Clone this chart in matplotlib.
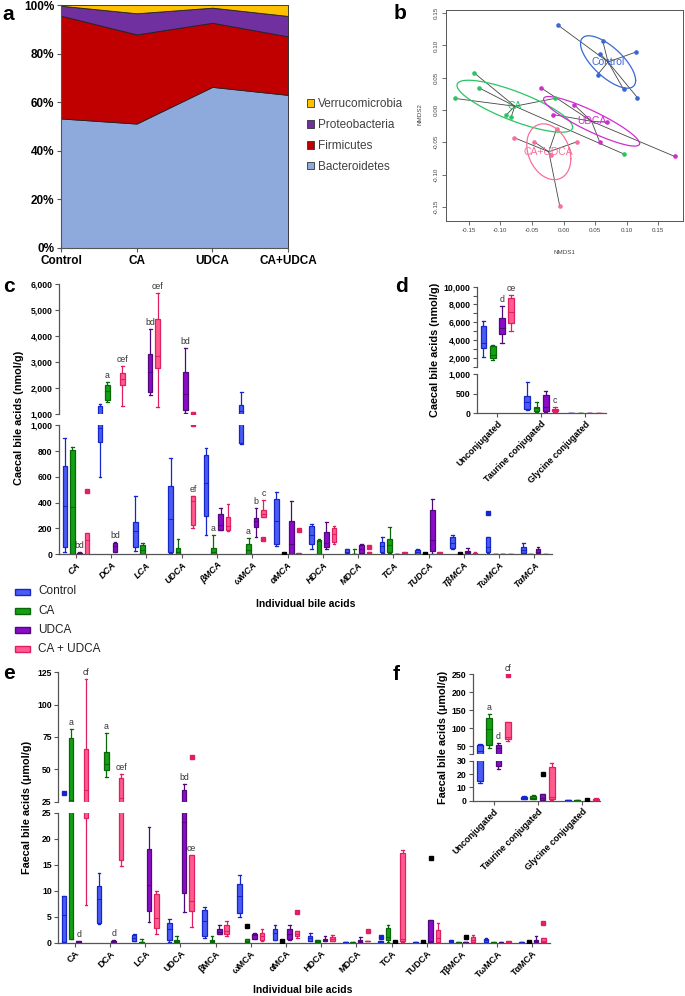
import numpy as np
import matplotlib
matplotlib.use('Agg')
import matplotlib.pyplot as plt
from matplotlib.patches import Rectangle, Patch

plt.rcParams['font.family'] = ['Liberation Sans', 'DejaVu Sans']

W, H = 685, 996

# ---------------- panel a: phylum composition (%) ----------------
a_groups = ['Control', 'CA', 'UDCA', 'CA+UDCA']
bacteroidetes = [53.3, 51.2, 66.3, 63.0]
firmicutes = [42.3, 36.7, 26.4, 24.1]
proteobacteria = [4.1, 8.7, 6.2, 8.4]
verrucomicrobia = [0.3, 3.4, 1.1, 4.5]
phyla = ['Bacteroidetes', 'Firmicutes', 'Proteobacteria', 'Verrucomicrobia']
phyla_colors = ['#8EA9DB', '#C00000', '#7030A0', '#FFC000']

# ---------------- panel b: NMDS ----------------
b_control_x = [-0.008, 0.062, 0.058, 0.115, 0.054, 0.095, 0.117]
b_control_y = [0.131, 0.107, 0.087, 0.090, 0.055, 0.032, 0.019]
b_ca_x = [-0.142, -0.133, -0.172, -0.014, -0.091, -0.083, 0.095]
b_ca_y = [0.058, 0.034, 0.018, 0.018, -0.008, -0.011, -0.068]
b_udca_x = [-0.035, 0.017, -0.017, 0.068, 0.057, 0.176]
b_udca_y = [0.034, 0.008, -0.007, -0.019, -0.049, -0.072]
b_mix_x = [-0.078, -0.047, -0.011, 0.022, -0.020, -0.006]
b_mix_y = [-0.043, -0.049, -0.029, -0.049, -0.069, -0.149]
b_colors = ['#3A67D6', '#2BC463', '#CF2ECF', '#F7709A']

# ---------------- shared for c-f ----------------
groups = ['Control', 'CA', 'UDCA', 'CA + UDCA']
grp_fill = ['#4A5CF2', '#14A014', '#8C0BCB', '#FF5C8E']
grp_edge = ['#1626C8', '#086808', '#4E0A78', '#E01E62']
acids = ['CA', 'DCA', 'LCA', 'UDCA', 'βMCA', 'ωMCA', 'αMCA', 'HDCA', 'MDCA',
         'TCA', 'TUDCA', 'TβMCA', 'TωMCA', 'TαMCA']
conj = ['Unconjugated', 'Taurine conjugated', 'Glycine conjugated']

# box stats: (min, q1, median, q3, max); None = shown only as black point
# panel c: caecal, nmol/g
c_control = [(20, 60, 375, 685, 905), (600, 870, 980, 1320, 1390), (26, 59, 181, 248, 454),
             (8, 21, 271, 532, 748), (150, 297, 550, 769, 821), (852, 860, 1130, 1360, 1870),
             (67, 79, 259, 431, 482), (38, 79, 149, 218, 233), (8, 8, 20, 38, 44),
             (13, 21, 64, 97, 131), (2, 5, 15, 33, 38), (40, 46, 85, 136, 149),
             (13, 21, 60, 131, 131), (13, 13, 36, 59, 90)]
c_ca = [(0, 2, 365, 805, 830), (1460, 1564, 1910, 2128, 2230), (0, 2, 34, 72, 90),
        (0, 2, 20, 52, 119), (0, 2, 15, 52, 150), (0, 2, 30, 77, 124), None,
        (0, 2, 100, 110, 115), (0, 1, 3, 5, 38), (13, 21, 72, 115, 208), None, None,
        (0, 1, 2, 3, 3), (0, 1, 2, 3, 3)]
c_udca = [(2, 5, 8, 12, 15), (21, 21, 67, 90, 95), (1744, 1846, 2615, 3308, 4282),
          (1050, 1167, 1795, 2615, 3538), (188, 188, 227, 310, 361), (137, 209, 258, 284, 356),
          (0, 0, 79, 259, 413), (38, 56, 85, 169, 251), (8, 8, 41, 72, 79), (0, 1, 2, 4, 5),
          (3, 26, 110, 341, 426), (5, 8, 15, 28, 51), (0, 1, 2, 3, 3), (8, 8, 20, 41, 59)]
c_mix = [(0, 0, 110, 163, 163), (1333, 2128, 2346, 2590, 2846), (1295, 2795, 3244, 4654, 5654),
         (201, 227, 410, 452, 452), (181, 188, 222, 289, 387), (286, 286, 315, 341, 421),
         (2, 3, 5, 7, 8), (77, 97, 154, 200, 218), (10, 10, 15, 20, 20), (5, 7, 10, 14, 15),
         (5, 7, 10, 14, 15), (5, 6, 9, 12, 14), (0, 1, 2, 3, 3), (2, 3, 4, 5, 6)]
c_outliers = [(0, 3, 490), (3, 3, 1010), (5, 3, 119), (6, 3, 190), (8, 3, 59), (12, 0, 323)]
c_black = [(6, 1, 4), (10, 1, 4), (11, 1, 4)]
# (category, group, text, placed above an outlier)
c_letters = [(0, 2, 'bd', False), (1, 1, 'a', False), (1, 2, 'bd', False), (1, 3, 'cef', False),
             (2, 2, 'bd', False), (2, 3, 'cef', False), (3, 2, 'bd', False), (3, 3, 'ef', False),
             (4, 1, 'a', False), (5, 1, 'a', False), (5, 2, 'b', False), (5, 3, 'c', False)]

# panel d: caecal totals, nmol/g
d_control = [(2038, 3127, 3615, 5606, 6169), (85, 111, 299, 453, 795), (3, 5, 8, 12, 15)]
d_ca = [(1700, 2000, 2300, 3315, 3427), (43, 60, 128, 171, 282), (3, 5, 8, 12, 15)]
d_udca = [(3690, 4667, 5305, 6432, 7859), (43, 60, 154, 470, 581), (3, 5, 8, 12, 15)]
d_mix = [(5042, 5944, 7183, 8685, 9061), (40, 51, 80, 100, 162), (3, 5, 8, 12, 15)]
d_letters = [(0, 2, 'd', False), (0, 3, 'ce', False), (1, 3, 'c', False)]

# panel e: faecal, umol/g
e_control = [(0.1, 0.2, 5.4, 9.0, 9.0), (3.6, 3.7, 8.5, 10.9, 13.5), (0.4, 0.4, 1.0, 1.5, 1.7),
             (0.2, 0.5, 2.6, 3.7, 4.6), (1.0, 1.3, 4.2, 6.3, 6.9), (4.9, 5.8, 9.0, 11.3, 13.0),
             (0.6, 0.6, 1.8, 2.6, 3.4), (0.3, 0.3, 0.9, 1.3, 1.9), (0.05, 0.1, 0.15, 0.2, 0.2),
             (0.05, 0.1, 0.15, 0.25, 0.25), (0.05, 0.1, 0.15, 0.2, 0.2), (0.1, 0.2, 0.4, 0.6, 0.6),
             (0.1, 0.2, 0.5, 0.8, 1.0), (0.05, 0.1, 0.15, 0.2, 0.2)]
e_ca = [(0.7, 0.8, 26.0, 74.2, 81.4), (43.8, 49.5, 53.9, 63.1, 77.8), (0.05, 0.1, 0.15, 0.2, 0.7),
        (0.05, 0.1, 0.3, 0.5, 1.3), (0.05, 0.1, 0.3, 0.5, 1.3), (0.05, 0.1, 0.4, 0.8, 0.8), None,
        (0.05, 0.1, 0.3, 0.5, 0.5), (0.02, 0.05, 0.07, 0.1, 0.1), (0.2, 0.45, 1.1, 2.8, 3.5), None,
        (0.02, 0.05, 0.07, 0.1, 0.1), (0.02, 0.05, 0.07, 0.1, 0.1), None]
e_udca = [(0.05, 0.1, 0.15, 0.25, 0.3), (0.1, 0.2, 0.3, 0.4, 0.5), (4.0, 6.1, 11.1, 18.1, 22.3),
          (6.0, 9.5, 23.3, 34.0, 38.4), (1.7, 1.7, 2.1, 2.6, 3.5), (0.8, 0.8, 1.4, 1.7, 1.9),
          (0.5, 0.8, 1.6, 2.6, 3.5), (0.3, 0.3, 0.6, 0.8, 1.3), (0.1, 0.1, 0.4, 0.6, 1.1), None,
          (0.05, 0.1, 0.3, 4.3, 4.3), (0.05, 0.1, 0.15, 0.2, 0.2), (0.02, 0.05, 0.07, 0.1, 0.1),
          (0.1, 0.1, 0.3, 0.6, 1.3)]
e_mix = [(7.2, 23.9, 34.0, 66.0, 119.6), (14.7, 15.9, 27.6, 43.6, 46.4), (1.6, 2.8, 4.7, 9.3, 9.9),
         (3.1, 6.1, 8.1, 16.9, 16.9), (1.3, 1.7, 2.3, 3.5, 4.2), (0.4, 0.6, 1.2, 1.8, 2.6),
         (1.0, 1.3, 1.7, 2.2, 2.2), (0.3, 0.3, 0.8, 1.1, 1.4), (0.25, 0.28, 0.3, 0.35, 0.35),
         (0.2, 0.3, 0.8, 17.3, 17.8), (0.2, 0.2, 1.0, 2.4, 3.7), (0.1, 0.1, 0.5, 1.1, 1.4),
         (0.05, 0.1, 0.2, 0.3, 0.3), (0.1, 0.1, 0.3, 1.0, 1.0)]
e_outliers = [(0, 0, 32), (3, 3, 59.8), (6, 3, 6.0), (8, 3, 2.2), (9, 0, 1.15), (13, 3, 3.7)]
e_black = [(5, 1, 3.3), (6, 1, 0.3), (9, 2, 0.15), (10, 1, 0.1), (10, 2, 16.2), (11, 2, 1.1),
           (13, 1, 0.1)]
e_letters = [(0, 1, 'a', False), (0, 2, 'd', False), (0, 3, 'cf', False), (1, 1, 'a', False),
             (1, 2, 'd', False), (1, 3, 'cef', False), (3, 2, 'bd', False), (3, 3, 'ce', False)]

# panel f: faecal totals, umol/g
f_control = [(13.1, 15.1, 38.0, 53.7, 55.6), (1.0, 1.0, 1.8, 3.0, 3.2), (0.2, 0.3, 0.4, 0.6, 0.6)]
f_ca = [(44.4, 53.7, 98.0, 128.7, 139.0), (1.0, 1.3, 2.3, 3.8, 4.5), (0.2, 0.3, 0.5, 0.7, 0.8)]
f_udca = [(23.7, 26.4, 45.4, 53.7, 58.3), (0.5, 0.5, 2.0, 5.3, 5.3), None]
f_mix = [(65.7, 70.4, 76.0, 117.6, 117.6), (0.8, 1.3, 3.0, 25.2, 28.5), (0.5, 0.6, 1.0, 1.6, 2.0)]
f_outliers = [(0, 3, 248)]
f_black = [(1, 2, 19.9), (2, 2, 0.6)]
f_letters = [(0, 1, 'a', False), (0, 2, 'd', False), (0, 3, 'cf', True)]

AXC = '#555555'
SP, BW = 0.21, 0.13

fig = plt.figure(figsize=(W / 100, H / 100), dpi=100)
fig.patch.set_facecolor('white')


def add_ax(x0, y0, x1, y1):
    return fig.add_axes([x0 / W, 1 - y1 / H, (x1 - x0) / W, (y1 - y0) / H])


def panel_letter(x, y, s):
    fig.text(x / W, 1 - y / H, s, fontsize=15, fontweight='bold', va='baseline', ha='left')


# ---------------- a ----------------
ax = add_ax(61, 5, 288, 248)
xa = np.arange(len(a_groups))
ax.stackplot(xa, bacteroidetes, firmicutes, proteobacteria, verrucomicrobia,
             colors=phyla_colors, edgecolor='#222222', linewidth=0.6)
ax.set_xlim(0, 3)
ax.set_ylim(0, 100)
ax.set_yticks(range(0, 101, 20))
ax.set_yticklabels([f'{v}%' for v in range(0, 101, 20)], fontsize=8.5, fontweight='bold')
ax.set_xticks(xa)
ax.set_xticklabels(a_groups, fontsize=8.5, fontweight='bold')
for s in ('top', 'right'):
    ax.spines[s].set_visible(False)
for s in ('left', 'bottom'):
    ax.spines[s].set_color(AXC)
ax.tick_params(length=3, color=AXC, pad=2)
handles = [Patch(facecolor=c, edgecolor='#333333', lw=0.6) for c in phyla_colors][::-1]
leg = ax.legend(handles, phyla[::-1], loc='center left', bbox_to_anchor=(1.085, 0.463),
                frameon=False, fontsize=8.5, handlelength=0.6, handleheight=0.6,
                handletextpad=0.3, labelspacing=0.75, borderpad=0, borderaxespad=0)
for t in leg.get_texts():
    t.set_color('#404040')
panel_letter(2, 20, 'a')

# ---------------- b ----------------
ax = add_ax(446, 10, 683, 221)
bx = [b_control_x, b_ca_x, b_udca_x, b_mix_x]
by = [b_control_y, b_ca_y, b_udca_y, b_mix_y]
b_names = ['Control', 'CA', 'UDCA', 'CA+UDCA']
t = np.linspace(0, 2 * np.pi, 200)
for gx, gy, col, name in zip(bx, by, b_colors, b_names):
    gx, gy = np.array(gx), np.array(gy)
    cx, cy = gx.mean(), gy.mean()
    for px, py in zip(gx, gy):
        ax.plot([cx, px], [cy, py], color='#444444', lw=0.6, zorder=1)
    ax.plot(gx, gy, 'o', color=col, ms=2.3, zorder=3)
    L = np.linalg.cholesky(np.cov(np.vstack([gx, gy])))
    ell = L @ np.vstack([np.cos(t), np.sin(t)])
    ax.plot(cx + ell[0], cy + ell[1], color=col, lw=0.9, zorder=2)
    ax.text(cx, cy, name, color=col, fontsize=7.5, ha='center', va='center', zorder=4)
ax.set_xlim(-0.186, 0.189)
ax.set_ylim(-0.172, 0.155)
bt = [-0.15, -0.10, -0.05, 0.0, 0.05, 0.10, 0.15]
ax.set_xticks(bt)
ax.set_xticklabels([f'{v:.2f}' for v in bt], fontsize=4.5, color='#444444')
ax.set_yticks(bt)
ax.set_yticklabels([f'{v:.2f}' for v in bt], fontsize=4.5, color='#444444', rotation=90, va='center')
ax.tick_params(length=3, width=0.6, color='#555555', pad=2)
for s in ax.spines.values():
    s.set_color('#555555')
    s.set_linewidth(0.7)
fig.text(564 / W, 1 - 252 / H, 'NMDS1', fontsize=4.5, color='#444444', ha='center', va='center')
fig.text(420 / W, 1 - 114 / H, 'NMDS2', fontsize=4.5, color='#444444', ha='center', va='center',
         rotation=90)
panel_letter(394, 19, 'b')


# ---------------- box panels ----------------
def style_split(ax_t, ax_b, xlim, tlim, blim, tticks, bticks, tlabels, blabels, ysize):
    for a in (ax_t, ax_b):
        a.set_xlim(*xlim)
        a.patch.set_visible(False)
        for s in ('top', 'right'):
            a.spines[s].set_visible(False)
        for s in ('left', 'bottom'):
            a.spines[s].set_color(AXC)
            a.spines[s].set_linewidth(0.9)
        a.tick_params(length=3, width=0.8, color=AXC, pad=1.5)
    ax_t.spines['bottom'].set_visible(False)
    ax_t.tick_params(axis='x', bottom=False, labelbottom=False)
    ax_t.set_ylim(*tlim)
    ax_b.set_ylim(*blim)
    ax_t.set_yticks(tticks)
    ax_t.set_yticklabels(tlabels, fontsize=ysize, fontweight='bold')
    ax_b.set_yticks(bticks)
    ax_b.set_yticklabels(blabels, fontsize=ysize, fontweight='bold')


def draw_box(a, x, st, fc, ec):
    lo, q1, med, q3, hi = st
    y0, y1 = a.get_ylim()
    if hi < y0 or lo > y1:
        return
    a.add_patch(Rectangle((x - BW / 2, q1), BW, q3 - q1, facecolor=fc, edgecolor=ec,
                          lw=0.9, zorder=3))
    a.plot([x, x], [q3, hi], color=ec, lw=0.9, zorder=2)
    a.plot([x, x], [lo, q1], color=ec, lw=0.9, zorder=2)
    a.plot([x - BW * 0.3, x + BW * 0.3], [hi, hi], color=ec, lw=0.9, zorder=2)
    a.plot([x - BW * 0.3, x + BW * 0.3], [lo, lo], color=ec, lw=0.9, zorder=2)
    a.plot([x - BW / 2, x + BW / 2], [med, med], color=ec, lw=0.8, zorder=4)


def draw_point(a, x, v, col):
    y0, y1 = a.get_ylim()
    if y0 <= v <= y1 * 1.02:
        a.plot(x, v, 's', color=col, ms=2.6, zorder=5)


def draw_boxes(ax_t, ax_b, series, outliers, blacks, letters):
    for gi, stats in enumerate(series):
        for ci, st in enumerate(stats):
            if st is None:
                continue
            x = ci + (gi - 1.5) * SP
            for a in (ax_t, ax_b):
                draw_box(a, x, st, grp_fill[gi], grp_edge[gi])
    for a in (ax_t, ax_b):
        for ci, gi, v in outliers:
            draw_point(a, ci + (gi - 1.5) * SP, v, grp_edge[gi])
        for ci, gi, v in blacks:
            draw_point(a, ci + (gi - 1.5) * SP, v, 'black')
    for ci, gi, txt, on_out in letters:
        top = series[gi][ci][4]
        if on_out:
            top = max([top] + [v for c, g, v in outliers if c == ci and g == gi])
        a = ax_t if top > ax_t.get_ylim()[0] else ax_b
        a.annotate(txt, (ci + (gi - 1.5) * SP, top), xytext=(0, 1.5), textcoords='offset points',
                   ha='center', va='bottom', fontsize=6.3, color='#333333', annotation_clip=False)


def xlabels(a, labels, italic, size):
    a.set_xticks(range(len(labels)))
    a.set_xticklabels(labels, rotation=45, ha='right', rotation_mode='anchor', fontsize=size,
                      fontweight='bold', fontstyle='italic' if italic else 'normal')


# c
ct, cb = add_ax(59, 284.3, 552, 414.3), add_ax(59, 425.3, 552, 554.3)
style_split(ct, cb, (-0.48, 13.5), (1000, 6000), (0, 1000), range(1000, 6001, 1000),
            range(0, 1001, 200), [f'{v:,}' for v in range(1000, 6001, 1000)],
            [f'{v:,}' for v in range(0, 1001, 200)], 6.2)
draw_boxes(ct, cb, [c_control, c_ca, c_udca, c_mix], c_outliers, c_black, c_letters)
xlabels(cb, acids, True, 6.5)
fig.text(19 / W, 1 - 418 / H, 'Caecal bile acids (nmol/g)', rotation=90, fontsize=7.8,
         fontweight='bold', ha='center', va='center')
fig.text(306 / W, 1 - 604 / H, 'Individual bile acids', fontsize=7.5, fontweight='bold',
         ha='center', va='center')
panel_letter(3, 292, 'c')

# d
dt, db = add_ax(476.7, 286.7, 606, 366.5), add_ax(476.7, 374.3, 606, 413.3)
style_split(dt, db, (-0.47, 2.48), (1000, 10000), (0, 1000), range(1000, 10001, 1000),
            [0, 500, 1000], ['' if v % 2000 else f'{v:,}' for v in range(1000, 10001, 1000)],
            ['0', '500', '1,000'], 6.3)
draw_boxes(dt, db, [d_control, d_ca, d_udca, d_mix], [], [], d_letters)
xlabels(db, conj, False, 6.5)
fig.text(435 / W, 1 - 350 / H, 'Caecal bile acids (nmol/g)', rotation=90, fontsize=7.8,
         fontweight='bold', ha='center', va='center')
panel_letter(395, 292, 'd')

# legend for groups
for gi, name in enumerate(groups):
    yc = 591.5 + gi * 19.1
    fig.patches.append(Rectangle((15 / W, 1 - (yc + 3) / H), 15 / W, 6 / H,
                                 transform=fig.transFigure, facecolor=grp_fill[gi],
                                 edgecolor=grp_edge[gi], lw=1.0))
    fig.text(38 / W, 1 - yc / H, name, fontsize=8.5, va='center', ha='left', color='#222222')

# e
et, eb = add_ax(58, 672.3, 550, 801.7), add_ax(58, 812.7, 550, 942.7)
style_split(et, eb, (-0.48, 13.5), (25, 125), (0, 25), range(25, 126, 25), range(0, 26, 5),
            [str(v) for v in range(25, 126, 25)], [str(v) for v in range(0, 26, 5)], 6.2)
draw_boxes(et, eb, [e_control, e_ca, e_udca, e_mix], e_outliers, e_black, e_letters)
xlabels(eb, acids, False, 6.5)
fig.text(27 / W, 1 - 807 / H, 'Faecal bile acids (μmol/g)', rotation=90, fontsize=7.8,
         fontweight='bold', ha='center', va='center')
fig.text(303 / W, 1 - 990 / H, 'Individual bile acids', fontsize=7.5, fontweight='bold',
         ha='center', va='center')
panel_letter(3, 679, 'e')

# f
ft, fb = add_ax(472.7, 674.3, 600, 753.5), add_ax(472.7, 761, 600, 800.7)
style_split(ft, fb, (-0.48, 2.41), (30, 250), (0, 30), [30, 50, 100, 150, 200, 250],
            [0, 10, 20, 30], ['', '50', '100', '150', '200', '250'], ['0', '10', '20', '30'], 6.3)
draw_boxes(ft, fb, [f_control, f_ca, f_udca, f_mix], f_outliers, f_black, f_letters)
xlabels(fb, conj, False, 6.5)
fig.text(443 / W, 1 - 737 / H, 'Faecal bile acids (μmol/g)', rotation=90, fontsize=7.8,
         fontweight='bold', ha='center', va='center')
panel_letter(393, 680, 'f')

fig.savefig('out.png', dpi=100)
